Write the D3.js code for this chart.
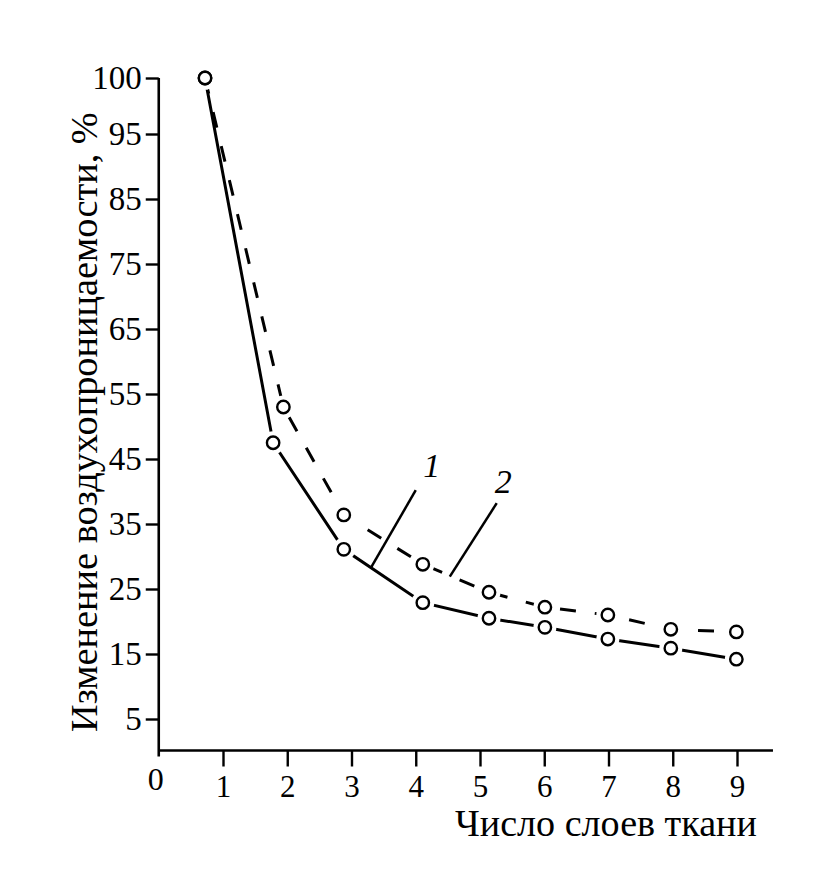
<!DOCTYPE html>
<html><head><meta charset="utf-8">
<script src="https://cdn.jsdelivr.net/npm/d3@7"></script>
<style>body{margin:0;background:#fff}svg{display:block}</style>
</head><body>
<svg id="chart" width="832" height="888"></svg>
<script>
// ---- data ----
const layers1 = [0.72, 1.78, 2.88, 4.11, 5.14, 6.01, 6.99, 7.97, 8.99];
const values1 = [100, 47.5, 31.1, 22.9, 20.5, 19.1, 17.3, 15.9, 14.2];
const layers2 = [0.72, 1.94, 2.88, 4.11, 5.14, 6.01, 6.99, 7.97, 8.99];
const values2 = [100, 53.0, 36.4, 28.8, 24.5, 22.2, 21.0, 18.8, 18.4];
const xTickValues = [1, 2, 3, 4, 5, 6, 7, 8, 9];
const yTickValues = [5, 15, 25, 35, 45, 55, 65, 75, 85, 95, 100];
const xTitle = "Число слоев ткани";
const yTitle = "Изменение воздухопроницаемости, %";
const seriesNames = ["1", "2"];
// label anchor (data units) and leader-line ends (data units)
const labelPos = [[4.25, 42.2], [5.36, 39.8]];
const leaderFrom = [[4.0, 40.2], [5.26, 38.2]];
const leaderTo = [[3.31, 28.4], [4.53, 26.9]];

const svg = d3.select("#chart");
svg.append("rect").attr("width", 832).attr("height", 888).attr("fill", "#fff");
const FONT = "'Liberation Serif', 'Times New Roman', serif";

const x = d3.scaleLinear().domain([0, 9]).range([158.75, 737]);
const y = d3.scaleLinear().domain([0, 95, 100]).range([751.5, 134, 78]);

// ---- axes ----
const yAxis = svg.append("g").attr("transform", `translate(${x(0)},0)`)
  .call(d3.axisLeft(y).tickValues(yTickValues).tickSize(13).tickPadding(4).tickSizeOuter(0).tickFormat(d3.format("d")));
yAxis.select(".domain").remove();
yAxis.selectAll(".tick line").attr("stroke", "#000").attr("stroke-width", 2.4);
yAxis.selectAll("text").attr("font-family", FONT).attr("font-size", 33).attr("fill", "#000");

const xAxis = svg.append("g").attr("transform", `translate(0,${y(0) - 1})`)
  .call(d3.axisBottom(x).tickValues(xTickValues).tickSize(16).tickPadding(8).tickSizeOuter(0));
xAxis.select(".domain").remove();
xAxis.selectAll(".tick line").attr("stroke", "#000").attr("stroke-width", 2.4);
xAxis.selectAll("text").attr("font-family", FONT).attr("font-size", 31).attr("fill", "#000");

// axis lines
svg.append("line").attr("x1", x(0)).attr("x2", x(0)).attr("y1", y(100)).attr("y2", y(0) + 5)
  .attr("stroke", "#000").attr("stroke-width", 2.6);
svg.append("line").attr("x1", x(0)).attr("x2", x(9.56)).attr("y1", y(0) - 1).attr("y2", y(0) - 1)
  .attr("stroke", "#000").attr("stroke-width", 2.6);

// origin label
svg.append("text").attr("x", x(0) - 3).attr("y", y(0) + 38)
  .attr("text-anchor", "middle").attr("font-family", FONT).attr("font-size", 32).text("0");

// ---- titles (fit to measured extent) ----
const xt = svg.append("text").attr("font-family", FONT).attr("font-size", 36)
  .attr("x", 455).attr("y", 836).text(xTitle);
const xw = xt.node().getComputedTextLength();
xt.attr("font-size", 36 * 302 / xw);

const yt = svg.append("text").attr("font-family", FONT).attr("font-size", 36)
  .attr("transform", "translate(97,732) rotate(-90)").text(yTitle);
const yw = yt.node().getComputedTextLength();
yt.attr("font-size", 36 * 620 / yw);

// ---- series ----
const s1 = layers1.map((l, i) => [l, values1[i]]);
const s2 = layers2.map((l, i) => [l, values2[i]]);
const line = d3.line().x(d => x(d[0])).y(d => y(d[1]));

svg.append("path").attr("d", line(s2)).attr("fill", "none").attr("stroke", "#000")
  .attr("stroke-width", 3).attr("stroke-dasharray", "16,19");
svg.append("path").attr("d", line(s1)).attr("fill", "none").attr("stroke", "#000")
  .attr("stroke-width", 3);

// leader lines and series labels
seriesNames.forEach((n, i) => {
  svg.append("line")
    .attr("x1", x(leaderFrom[i][0])).attr("y1", y(leaderFrom[i][1]))
    .attr("x2", x(leaderTo[i][0])).attr("y2", y(leaderTo[i][1]))
    .attr("stroke", "#000").attr("stroke-width", 2.5);
  svg.append("text").attr("x", x(labelPos[i][0])).attr("y", y(labelPos[i][1]))
    .attr("text-anchor", "middle").attr("font-family", FONT).attr("font-style", "italic")
    .attr("font-size", 34).text(n);
});

// markers with white halo
[s1, s2].forEach(s => {
  svg.append("g").selectAll("circle").data(s).join("circle")
    .attr("cx", d => x(d[0])).attr("cy", d => y(d[1])).attr("r", 11.5).attr("fill", "#fff");
});
[s1, s2].forEach(s => {
  svg.append("g").selectAll("circle").data(s).join("circle")
    .attr("cx", d => x(d[0])).attr("cy", d => y(d[1])).attr("r", 6.2)
    .attr("fill", "#fff").attr("stroke", "#000").attr("stroke-width", 2.4);
});
</script>
</body></html>
